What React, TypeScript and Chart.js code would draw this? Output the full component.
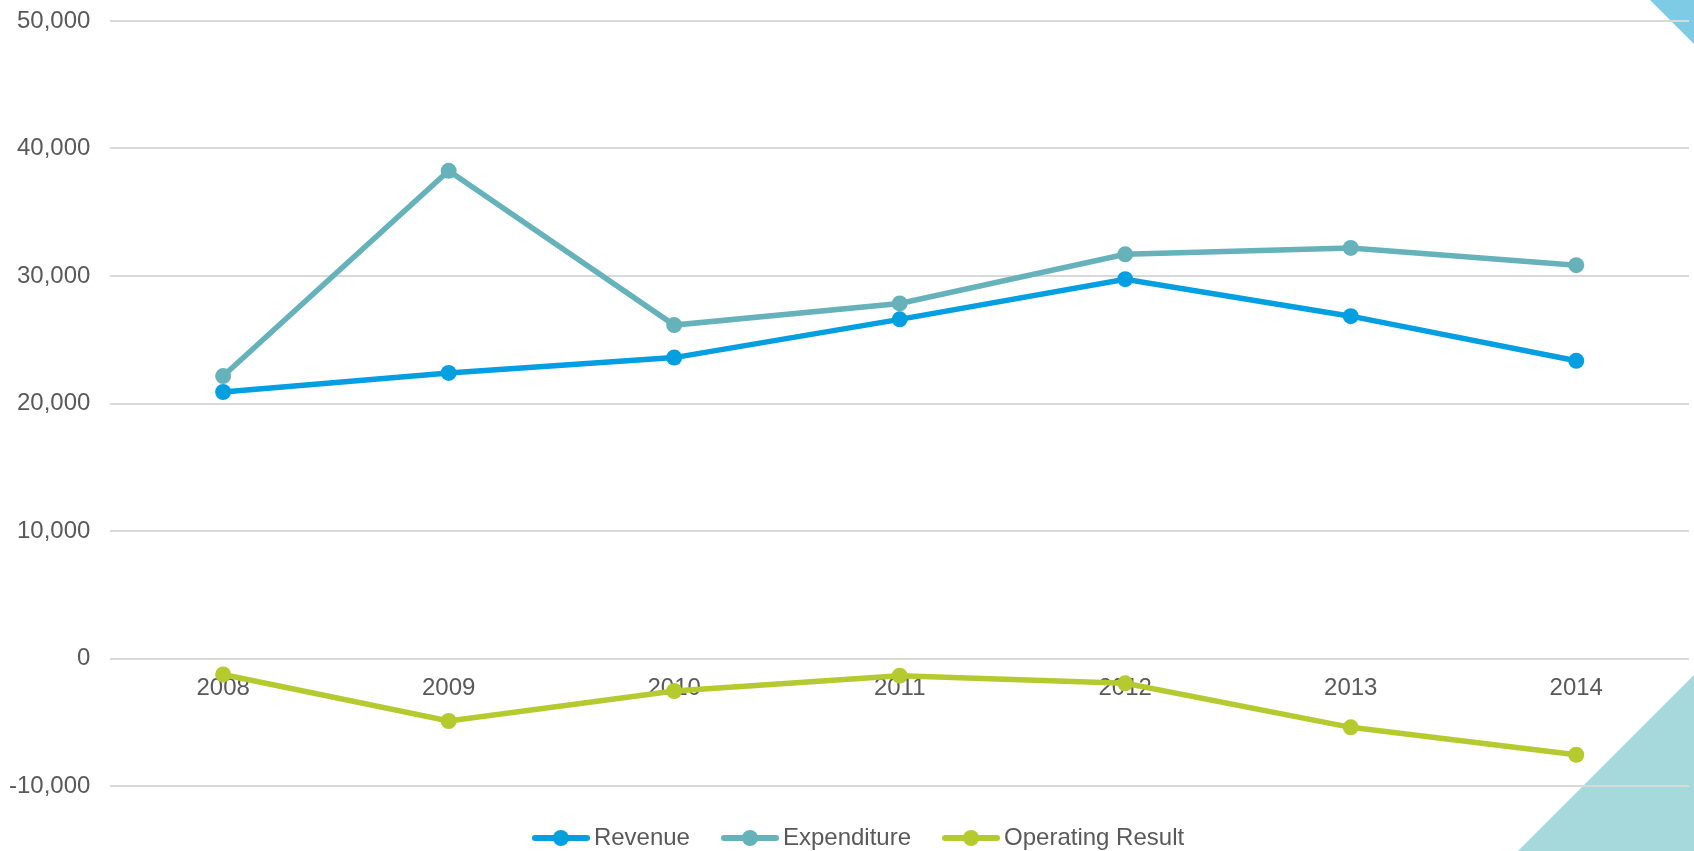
import React, { useEffect, useRef } from 'react';
import { Chart, registerables } from 'chart.js';

Chart.register(...registerables);

const years = ['2008', '2009', '2010', '2011', '2012', '2013', '2014'];
const revenue = [20900, 22400, 23600, 26600, 29750, 26850, 23350];
const expenditure = [22150, 38250, 26150, 27850, 31700, 32200, 30850];
const operatingResult = [-1250, -4900, -2550, -1350, -1950, -5400, -7550];
const seriesNames = ['Revenue', 'Expenditure', 'Operating Result'];
const seriesColors = ['#049FE0', '#66B2BA', '#B5CA2E'];
const yMin = -10000;
const yMax = 50000;
const yStep = 10000;

const FONT = '"Liberation Sans", Arial, sans-serif';
const TEXT = '#595959';

function makeLegendSymbol(color: string) {
  const c = document.createElement('canvas');
  c.width = 58;
  c.height = 18;
  const g = c.getContext('2d')!;
  g.strokeStyle = color;
  g.lineWidth = 6;
  g.lineCap = 'round';
  g.beginPath();
  g.moveTo(3, 9);
  g.lineTo(55, 9);
  g.stroke();
  g.fillStyle = color;
  g.beginPath();
  g.arc(29, 9, 8, 0, Math.PI * 2);
  g.fill();
  return c;
}

const cornerDecor = {
  id: 'cornerDecor',
  beforeDraw(chart: any) {
    const { ctx, width, height } = chart;
    ctx.save();
    ctx.fillStyle = '#7ECBE6';
    ctx.beginPath();
    ctx.moveTo(width - 44, 0);
    ctx.lineTo(width, 0);
    ctx.lineTo(width, 44);
    ctx.closePath();
    ctx.fill();
    ctx.fillStyle = '#A6D9DC';
    ctx.beginPath();
    ctx.moveTo(width, height - 176);
    ctx.lineTo(width, height);
    ctx.lineTo(width - 176, height);
    ctx.closePath();
    ctx.fill();
    ctx.restore();
  },
};

const legendNudge = {
  id: 'legendNudge',
  afterLayout(chart: any) {
    const lg = chart.legend;
    if (!lg) return;
    lg.left += 23;
    lg.right += 23;
    lg.top += 1;
    lg.bottom += 1;
  },
};

export default function App() {
  const ref = useRef<HTMLCanvasElement | null>(null);

  useEffect(() => {
    if (!ref.current) return;
    const series = [revenue, expenditure, operatingResult];
    const symbols = seriesColors.map((c) => makeLegendSymbol(c));
    const chart = new Chart(ref.current, {
      type: 'line',
      data: {
        labels: years,
        datasets: series.map((d, i) => ({
          label: seriesNames[i],
          data: d,
          borderColor: seriesColors[i],
          backgroundColor: seriesColors[i],
          pointBackgroundColor: seriesColors[i],
          pointBorderWidth: 0,
          pointRadius: 8,
          borderWidth: 5.5,
          tension: 0,
          fill: false,
        })),
      },
      options: {
        animation: false,
        responsive: true,
        maintainAspectRatio: false,
        layout: { autoPadding: false, padding: { top: 0, left: -11, right: 5, bottom: -8 } },
        scales: {
          x: {
            type: 'category',
            offset: true,
            position: { y: 0 } as any,
            grid: { display: false, drawTicks: false },
            border: { display: false },
            afterFit: (s: any) => {
              s.paddingLeft = 0;
              s.paddingRight = 0;
              s.paddingTop = 0;
              s.paddingBottom = 0;
            },
            ticks: {
              padding: 15,
              color: TEXT,
              font: { family: FONT, size: 24 },
              maxRotation: 0,
              autoSkip: false,
            },
          },
          y: {
            min: yMin,
            max: yMax,
            grid: { color: '#D9D9D9', lineWidth: 2, drawTicks: false },
            border: { display: false },
            afterFit: (s: any) => {
              s.paddingTop = 21;
              s.paddingBottom = 0;
              s.paddingLeft = 0;
              s.paddingRight = 0;
            },
            ticks: {
              stepSize: yStep,
              padding: 20,
              color: TEXT,
              font: { family: FONT, size: 24 },
              callback: (v: any) => Number(v).toLocaleString('en-US'),
            },
          },
        },
        plugins: {
          legend: {
            position: 'bottom',
            labels: {
              usePointStyle: true,
              pointStyleWidth: 42,
              padding: 39,
              color: TEXT,
              font: { family: FONT, size: 24 },
              generateLabels: (ch: any) => {
                const items = Chart.defaults.plugins.legend.labels.generateLabels(ch);
                return items.map((it: any, i: number) => ({ ...it, pointStyle: symbols[i] }));
              },
            },
          },
          tooltip: { enabled: false },
        },
      },
      plugins: [cornerDecor, legendNudge],
    });
    return () => chart.destroy();
  }, []);

  return (
    <div style={{ position: 'absolute', left: 0, top: 0, width: 1694, height: 851, background: '#fff' }}>
      <canvas ref={ref} />
    </div>
  );
}
